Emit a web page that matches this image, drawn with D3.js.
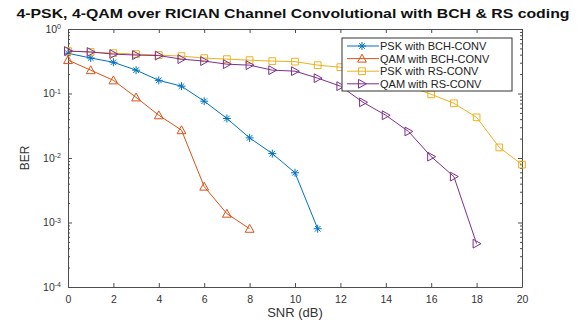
<!DOCTYPE html>
<html>
<head>
<meta charset="utf-8">
<script src="https://cdn.jsdelivr.net/npm/d3@7"></script>
<style>
  html, body { margin: 0; padding: 0; background: #fff; }
  svg { display: block; font-family: "Liberation Sans", Arial, sans-serif; }
</style>
</head>
<body>
<svg id="chart" width="579" height="320"></svg>
<script>
// SNR points (dB)
const snrBCH_PSK = [0,1,2,3,4,5,6,7,8,9,10,11];
const snrBCH_QAM = [0,1,2,3,4,5,6,7,8];
const snrRS_PSK  = [0,1,2,3,4,5,6,7,8,9,10,11,12,13,14,15,16,17,18,19,20];
const snrRS_QAM  = [0,1,2,3,4,5,6,7,8,9,10,11,12,13,14,15,16,17,18];

// BER values per series
const berBCH_PSK = [0.42,0.355,0.305,0.23,0.16,0.13,0.076,0.041,0.0205,0.0117,0.0059,0.0008];
const berBCH_QAM = [0.33,0.23,0.16,0.087,0.046,0.027,0.0036,0.00137,0.0008];
const berRS_PSK  = [0.455,0.44,0.423,0.408,0.394,0.38,0.354,0.341,0.329,0.318,0.312,0.275,0.256,0.22,0.17,0.13,0.097,0.0705,0.0427,0.0146,0.0079];
const berRS_QAM  = [0.455,0.44,0.408,0.394,0.387,0.341,0.318,0.285,0.275,0.23,0.222,0.173,0.13,0.073,0.046,0.0258,0.0105,0.00515,0.00047];

const seriesNames = ["PSK with BCH-CONV","QAM with BCH-CONV","PSK with RS-CONV","QAM with RS-CONV"];
const xTicks = [0,2,4,6,8,10,12,14,16,18,20];
const yTicks = [1e-4,1e-3,1e-2,1e-1,1];
const yTickExp = ["-4","-3","-2","-1","0"];

const titleText = "4-PSK, 4-QAM over RICIAN Channel Convolutional with BCH & RS coding";
const xLabel = "SNR (dB)";
const yLabel = "BER";

const series = [
  {name: seriesNames[0], x: snrBCH_PSK, y: berBCH_PSK, color: "#0072BD", marker: "star"},
  {name: seriesNames[1], x: snrBCH_QAM, y: berBCH_QAM, color: "#D95319", marker: "triUp"},
  {name: seriesNames[2], x: snrRS_PSK,  y: berRS_PSK,  color: "#EDB120", marker: "square"},
  {name: seriesNames[3], x: snrRS_QAM,  y: berRS_QAM,  color: "#7E2F8E", marker: "triRight"}
];

const svg = d3.select("#chart");
const L = 68, R = 522, T = 29, B = 287;
const x = d3.scaleLinear().domain([0,20]).range([L,R]);
const y = d3.scaleLog().domain([1e-4,1]).range([B,T]);

const axisColor = "#4d4d4d";
const textColor = "#333";

// minor ticks 2..9 for each decade
const minor = [];
for (let e = -4; e < 0; e++) for (let m = 2; m <= 9; m++) minor.push(m * Math.pow(10, e));

function styleAxis(g) {
  g.select(".domain").attr("stroke", axisColor).attr("stroke-width", 1);
  g.selectAll(".tick line").attr("stroke", axisColor);
  g.selectAll(".tick text").attr("fill", textColor).attr("font-size", 10.5);
}

// bottom axis
svg.append("g").attr("transform", `translate(0,${B})`)
  .call(d3.axisBottom(x).tickValues(xTicks).tickSize(-4).tickSizeOuter(0).tickPadding(9).tickFormat(d3.format("d")))
  .call(styleAxis);
// top axis
svg.append("g").attr("transform", `translate(0,${T})`)
  .call(d3.axisTop(x).tickValues(xTicks).tickSize(-4).tickSizeOuter(0).tickFormat(""))
  .call(styleAxis);

// left axis with power-of-ten labels
const leftG = svg.append("g").attr("transform", `translate(${L},0)`)
  .call(d3.axisLeft(y).tickValues(yTicks).tickSize(-4).tickSizeOuter(0).tickPadding(7).tickFormat(""))
  .call(styleAxis);
leftG.selectAll(".tick text").each(function(d, i) {
  const t = d3.select(this);
  t.append("tspan").text("10");
  t.append("tspan").attr("dy", -3.5).attr("font-size", 7).text(yTickExp[i]);
});
svg.append("g").attr("transform", `translate(${L},0)`)
  .call(d3.axisLeft(y).tickValues(minor).tickSize(-2).tickSizeOuter(0).tickFormat(""))
  .call(g => g.select(".domain").remove())
  .call(g => g.selectAll(".tick line").attr("stroke", axisColor));

// right axis
svg.append("g").attr("transform", `translate(${R},0)`)
  .call(d3.axisRight(y).tickValues(yTicks).tickSize(-4).tickSizeOuter(0).tickFormat(""))
  .call(styleAxis);
svg.append("g").attr("transform", `translate(${R},0)`)
  .call(d3.axisRight(y).tickValues(minor).tickSize(-2).tickSizeOuter(0).tickFormat(""))
  .call(g => g.select(".domain").remove())
  .call(g => g.selectAll(".tick line").attr("stroke", axisColor));

// marker shapes
function markerPath(type, s) {
  switch (type) {
    case "star": {
      const a = s * 0.5, b = a * 0.7;
      return `M${-a},0L${a},0M0,${-a}L0,${a}M${-b},${-b}L${b},${b}M${-b},${b}L${b},${-b}`;
    }
    case "triUp": {
      const a = s * 0.55;
      return `M0,${-a}L${a},${a*0.8}L${-a},${a*0.8}Z`;
    }
    case "triRight": {
      const a = s * 0.55;
      return `M${a},0L${-a*0.8},${-a}L${-a*0.8},${a}Z`;
    }
    case "square": {
      const a = s * 0.42;
      return `M${-a},${-a}L${a},${-a}L${a},${a}L${-a},${a}Z`;
    }
  }
}

const line = d3.line().x(d => x(d[0])).y(d => y(d[1]));
const plot = svg.append("g");
series.forEach(s => {
  const pts = s.x.map((v, i) => [v, s.y[i]]);
  plot.append("path").datum(pts).attr("d", line)
    .attr("fill", "none").attr("stroke", s.color).attr("stroke-width", 1);
  plot.selectAll(null).data(pts).enter().append("path")
    .attr("transform", d => `translate(${x(d[0])},${y(d[1])})`)
    .attr("d", markerPath(s.marker, 8))
    .attr("fill", "none").attr("stroke", s.color).attr("stroke-width", 1);
});

// legend
const lg = svg.append("g").attr("transform", "translate(342,38)");
lg.append("rect").attr("width", 170).attr("height", 53)
  .attr("fill", "#fff").attr("stroke", "#333").attr("stroke-width", 1);
series.forEach((s, i) => {
  const yy = 8 + i * 12.6;
  lg.append("line").attr("x1", 5).attr("x2", 37).attr("y1", yy).attr("y2", yy)
    .attr("stroke", s.color).attr("stroke-width", 1);
  lg.append("path").attr("transform", `translate(20,${yy})`)
    .attr("d", markerPath(s.marker, 8)).attr("fill", "none").attr("stroke", s.color);
  lg.append("text").attr("x", 38).attr("y", yy + 4).attr("font-size", 11)
    .attr("fill", "#222").text(s.name);
});

// title and axis labels
svg.append("text").attr("x", 293).attr("y", 17.5).attr("text-anchor", "middle")
  .attr("font-size", 12).attr("font-weight", "bold").attr("fill", "#111")
  .attr("textLength", 553).attr("lengthAdjust", "spacingAndGlyphs").text(titleText);
svg.append("text").attr("x", 295).attr("y", 317).attr("text-anchor", "middle")
  .attr("font-size", 13).attr("fill", textColor).text(xLabel);
svg.append("text").attr("transform", "translate(29,158) rotate(-90)").attr("text-anchor", "middle")
  .attr("font-size", 12).attr("fill", textColor).text(yLabel);
</script>
</body>
</html>
